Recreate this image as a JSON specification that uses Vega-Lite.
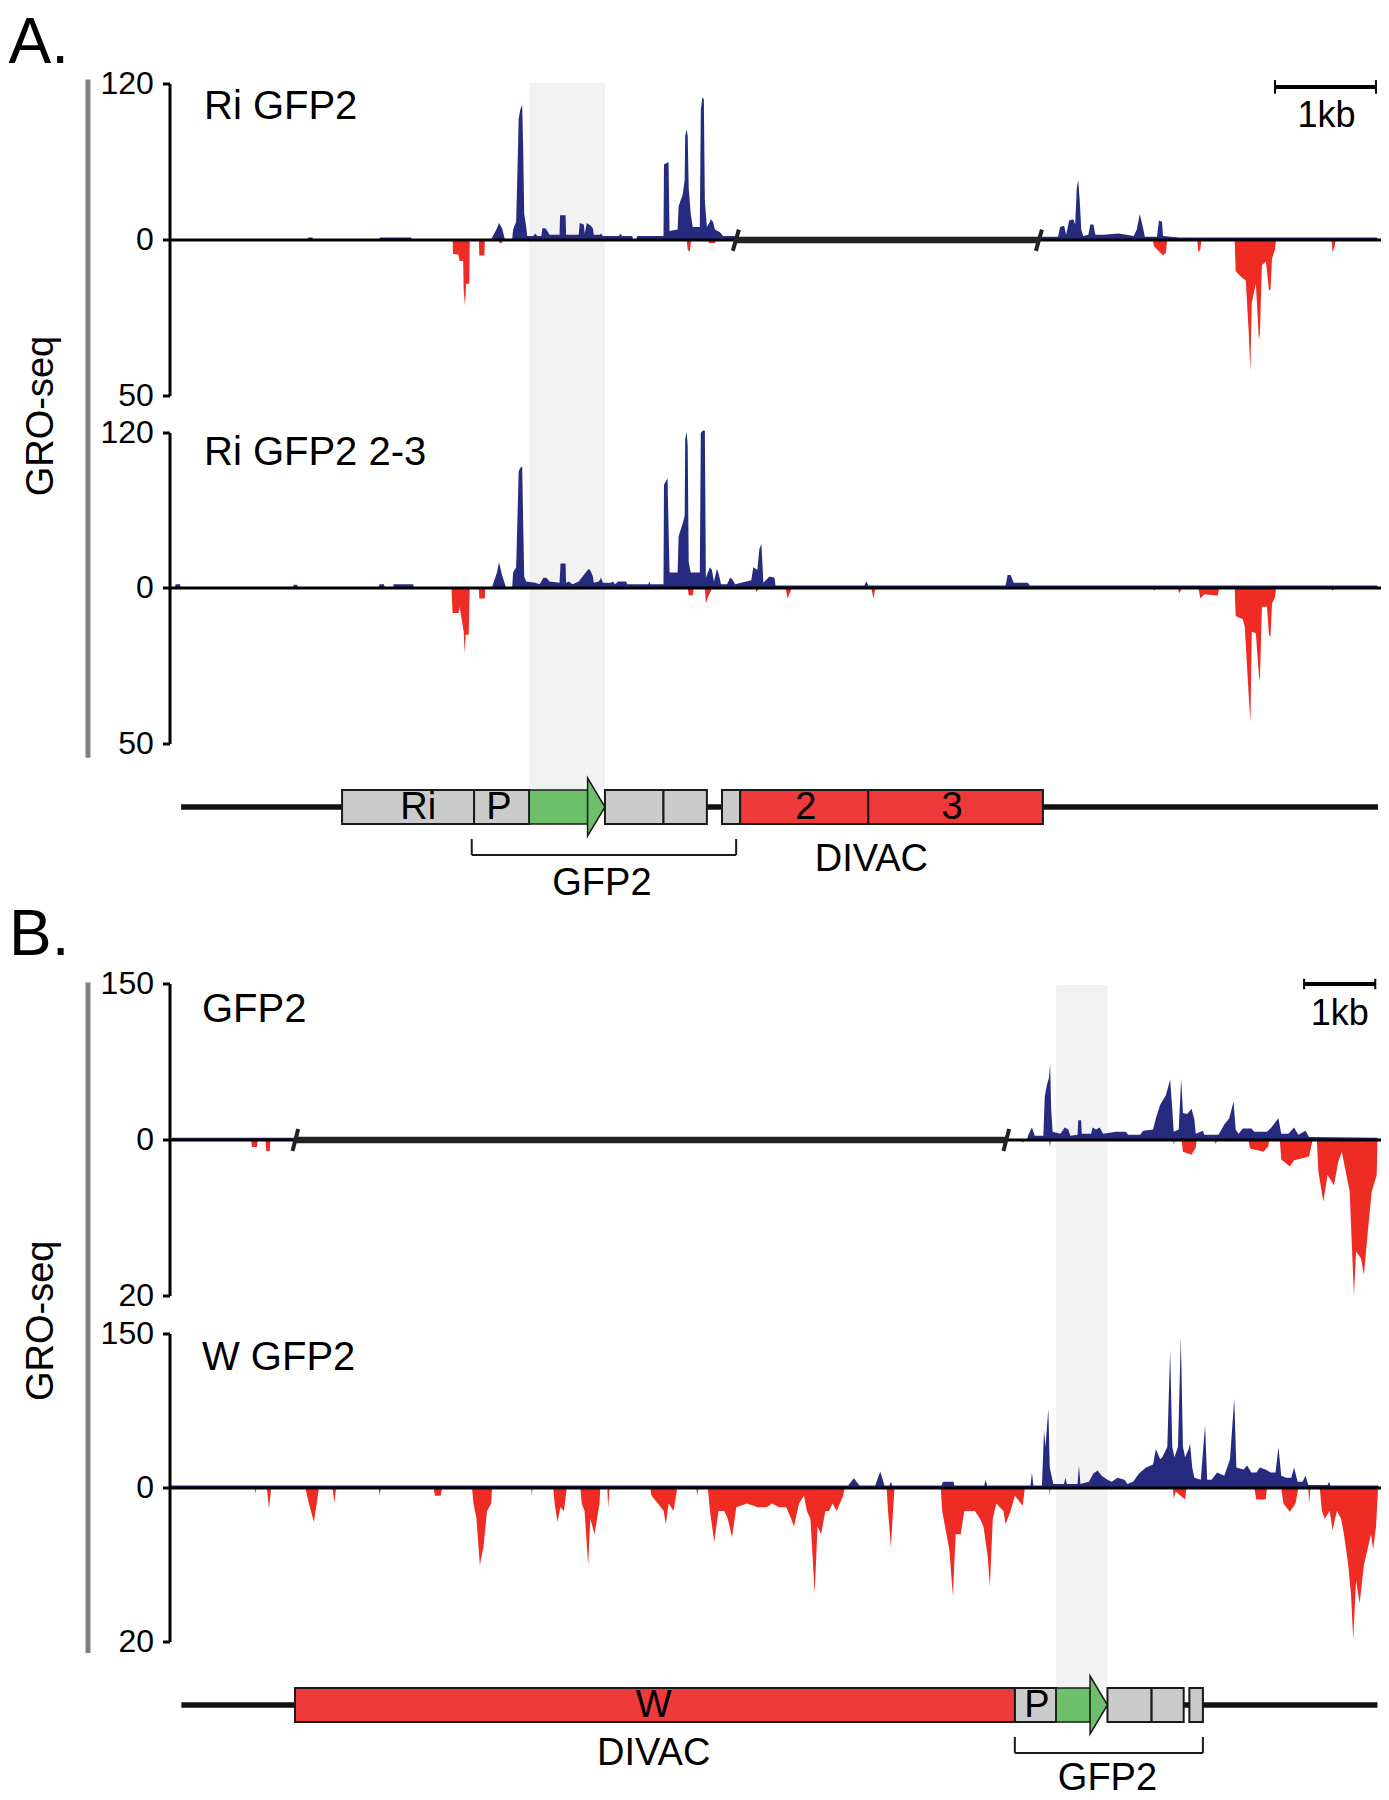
{
"$schema":"https://vega.github.io/schema/vega-lite/v6.json",
"width":1219,"height":1800,"padding":{"left":170,"top":0,"right":0,"bottom":0},"autosize":{"type":"none"},"background":"white",
"config":{"view":{"stroke":null},"font":"Liberation Sans","text":{"font":"Liberation Sans","color":"black"}},
"datasets":{
"ticks":[{"g":"A","v":120,"lab":"120"},{"g":"A","v":0,"lab":"0"},{"g":"A","v":-50,"lab":"50"},{"g":"B","v":150,"lab":"150"},{"g":"B","v":0,"lab":"0"},{"g":"B","v":-20,"lab":"20"}],
"A1p":[{"x":0,"v":0},{"x":1.36,"v":0},{"x":1.37,"v":2},{"x":1.41,"v":2},{"x":1.42,"v":0},{"x":2.07,"v":0},{"x":2.08,"v":2},{"x":2.39,"v":2},{"x":2.4,"v":0},{"x":3.18,"v":0},{"x":3.2,"v":3},{"x":3.24,"v":9},{"x":3.26,"v":13},{"x":3.29,"v":9},{"x":3.31,"v":3},{"x":3.32,"v":0},{"x":3.39,"v":0},{"x":3.4,"v":8},{"x":3.43,"v":14},{"x":3.445,"v":60},{"x":3.455,"v":93},{"x":3.47,"v":100},{"x":3.49,"v":104},{"x":3.5,"v":70},{"x":3.51,"v":20},{"x":3.53,"v":10},{"x":3.54,"v":3},{"x":3.6,"v":3},{"x":3.62,"v":5},{"x":3.64,"v":3},{"x":3.68,"v":3},{"x":3.69,"v":9},{"x":3.72,"v":9},{"x":3.74,"v":7},{"x":3.76,"v":4},{"x":3.86,"v":4},{"x":3.865,"v":19},{"x":3.92,"v":19},{"x":3.925,"v":4},{"x":4.05,"v":4},{"x":4.06,"v":13},{"x":4.1,"v":12},{"x":4.11,"v":5},{"x":4.13,"v":13},{"x":4.17,"v":11},{"x":4.19,"v":9},{"x":4.2,"v":4},{"x":4.26,"v":4},{"x":4.27,"v":5},{"x":4.29,"v":3},{"x":4.45,"v":3},{"x":4.46,"v":5},{"x":4.48,"v":3},{"x":4.58,"v":3},{"x":4.59,"v":0},{"x":4.62,"v":0},{"x":4.63,"v":3},{"x":4.89,"v":3},{"x":4.895,"v":58},{"x":4.94,"v":60},{"x":4.95,"v":7},{"x":5.03,"v":8},{"x":5.04,"v":26},{"x":5.08,"v":35},{"x":5.1,"v":46},{"x":5.105,"v":80},{"x":5.12,"v":85},{"x":5.13,"v":80},{"x":5.14,"v":40},{"x":5.16,"v":20},{"x":5.18,"v":10},{"x":5.25,"v":10},{"x":5.26,"v":100},{"x":5.275,"v":110},{"x":5.29,"v":108},{"x":5.3,"v":30},{"x":5.32,"v":10},{"x":5.35,"v":14},{"x":5.36,"v":16},{"x":5.38,"v":14},{"x":5.4,"v":8},{"x":5.45,"v":6},{"x":5.48,"v":3},{"x":5.6,"v":3},{"x":5.61,"v":0},{"x":8.62,"v":0},{"x":8.63,"v":2.5},{"x":8.8,"v":2.5},{"x":8.82,"v":10},{"x":8.86,"v":11},{"x":8.88,"v":4},{"x":8.91,"v":15},{"x":8.95,"v":16},{"x":8.97,"v":12},{"x":8.985,"v":40},{"x":9.0,"v":46},{"x":9.015,"v":30},{"x":9.03,"v":8},{"x":9.05,"v":3},{"x":9.1,"v":4},{"x":9.12,"v":12},{"x":9.15,"v":12},{"x":9.17,"v":4},{"x":9.25,"v":4},{"x":9.4,"v":5},{"x":9.55,"v":3},{"x":9.58,"v":8},{"x":9.61,"v":20},{"x":9.64,"v":10},{"x":9.66,"v":2.5},{"x":9.78,"v":2.5},{"x":9.8,"v":15},{"x":9.83,"v":14},{"x":9.84,"v":3},{"x":10.0,"v":2},{"x":11.96,"v":2},{"x":11.97,"v":0}],
"A1m":[{"x":2.8,"v":0},{"x":2.805,"v":-4.6},{"x":2.855,"v":-4.6},{"x":2.87,"v":-6.7},{"x":2.905,"v":-6.7},{"x":2.91,"v":-16},{"x":2.923,"v":-21},{"x":2.935,"v":-14},{"x":2.966,"v":-14},{"x":2.97,"v":0},{"x":3.06,"v":0},{"x":3.065,"v":-5},{"x":3.115,"v":-5},{"x":3.12,"v":0},{"x":3.26,"v":0},{"x":3.265,"v":-1},{"x":3.29,"v":-1},{"x":3.295,"v":0},{"x":5.12,"v":0},{"x":5.13,"v":-3},{"x":5.15,"v":-4},{"x":5.16,"v":-1},{"x":5.17,"v":0},{"x":5.33,"v":0},{"x":5.34,"v":-1},{"x":5.4,"v":-1},{"x":5.41,"v":0},{"x":9.74,"v":0},{"x":9.75,"v":-2},{"x":9.84,"v":-5},{"x":9.87,"v":-4},{"x":9.88,"v":0},{"x":10.18,"v":0},{"x":10.19,"v":-4},{"x":10.21,"v":-3},{"x":10.22,"v":0},{"x":10.55,"v":0},{"x":10.56,"v":-10},{"x":10.62,"v":-12},{"x":10.66,"v":-13},{"x":10.69,"v":-30},{"x":10.705,"v":-42},{"x":10.72,"v":-20},{"x":10.76,"v":-14},{"x":10.79,"v":-32},{"x":10.8,"v":-30},{"x":10.82,"v":-8},{"x":10.86,"v":-7},{"x":10.89,"v":-16},{"x":10.905,"v":-16},{"x":10.92,"v":-6},{"x":10.95,"v":-3},{"x":10.96,"v":0},{"x":11.51,"v":0},{"x":11.52,"v":-4},{"x":11.54,"v":-2},{"x":11.55,"v":0}],
"A2p":[{"x":0,"v":0},{"x":0.05,"v":0},{"x":0.055,"v":3},{"x":0.1,"v":3},{"x":0.105,"v":0},{"x":1.22,"v":0},{"x":1.225,"v":2.5},{"x":1.26,"v":2.5},{"x":1.265,"v":0},{"x":2.07,"v":0},{"x":2.075,"v":3},{"x":2.12,"v":3},{"x":2.13,"v":0},{"x":2.21,"v":0},{"x":2.215,"v":3},{"x":2.41,"v":3},{"x":2.415,"v":0},{"x":3.19,"v":0},{"x":3.2,"v":3},{"x":3.24,"v":12},{"x":3.26,"v":20},{"x":3.29,"v":10},{"x":3.32,"v":3},{"x":3.33,"v":0},{"x":3.39,"v":0},{"x":3.4,"v":12},{"x":3.43,"v":16},{"x":3.445,"v":60},{"x":3.455,"v":90},{"x":3.47,"v":93},{"x":3.49,"v":94},{"x":3.5,"v":50},{"x":3.51,"v":9},{"x":3.53,"v":5},{"x":3.62,"v":4},{"x":3.66,"v":3},{"x":3.68,"v":5},{"x":3.7,"v":8},{"x":3.73,"v":8},{"x":3.76,"v":5},{"x":3.86,"v":4},{"x":3.87,"v":19},{"x":3.92,"v":19},{"x":3.925,"v":4},{"x":3.95,"v":5},{"x":3.99,"v":3},{"x":4.05,"v":5},{"x":4.1,"v":10},{"x":4.15,"v":15},{"x":4.17,"v":13},{"x":4.19,"v":9},{"x":4.2,"v":4},{"x":4.25,"v":5},{"x":4.27,"v":8},{"x":4.29,"v":4},{"x":4.37,"v":4},{"x":4.39,"v":5},{"x":4.41,"v":3},{"x":4.44,"v":5},{"x":4.52,"v":5},{"x":4.53,"v":3},{"x":4.74,"v":3},{"x":4.75,"v":5},{"x":4.76,"v":3},{"x":4.89,"v":3},{"x":4.895,"v":80},{"x":4.93,"v":85},{"x":4.95,"v":12},{"x":5.03,"v":12},{"x":5.04,"v":40},{"x":5.08,"v":50},{"x":5.1,"v":56},{"x":5.105,"v":115},{"x":5.12,"v":121},{"x":5.13,"v":110},{"x":5.14,"v":20},{"x":5.16,"v":12},{"x":5.25,"v":12},{"x":5.26,"v":120},{"x":5.28,"v":122},{"x":5.3,"v":122},{"x":5.31,"v":8},{"x":5.35,"v":16},{"x":5.37,"v":14},{"x":5.39,"v":5},{"x":5.42,"v":15},{"x":5.44,"v":10},{"x":5.46,"v":3},{"x":5.52,"v":3},{"x":5.55,"v":8},{"x":5.57,"v":7},{"x":5.6,"v":3},{"x":5.71,"v":5},{"x":5.76,"v":6},{"x":5.78,"v":16},{"x":5.82,"v":14},{"x":5.84,"v":30},{"x":5.86,"v":34},{"x":5.87,"v":20},{"x":5.88,"v":4},{"x":5.94,"v":9},{"x":5.99,"v":8},{"x":6.0,"v":2},{"x":6.88,"v":2},{"x":6.9,"v":5},{"x":6.92,"v":2},{"x":8.28,"v":2},{"x":8.3,"v":10},{"x":8.33,"v":10},{"x":8.36,"v":4},{"x":8.5,"v":4},{"x":8.52,"v":2},{"x":11.96,"v":2},{"x":11.97,"v":0}],
"A2m":[{"x":2.79,"v":0},{"x":2.8,"v":-8},{"x":2.86,"v":-8},{"x":2.87,"v":-6},{"x":2.89,"v":-10},{"x":2.91,"v":-14},{"x":2.92,"v":-21},{"x":2.93,"v":-15},{"x":2.96,"v":-15},{"x":2.97,"v":0},{"x":3.06,"v":0},{"x":3.065,"v":-3.4},{"x":3.12,"v":-3.4},{"x":3.125,"v":0},{"x":5.13,"v":0},{"x":5.14,"v":-2.3},{"x":5.18,"v":-2.3},{"x":5.19,"v":0},{"x":5.3,"v":0},{"x":5.31,"v":-5},{"x":5.33,"v":-3},{"x":5.36,"v":-1},{"x":5.37,"v":0},{"x":5.8,"v":0},{"x":5.81,"v":-1.3},{"x":5.84,"v":0},{"x":6.1,"v":0},{"x":6.12,"v":-3.4},{"x":6.15,"v":-1},{"x":6.16,"v":0},{"x":6.95,"v":0},{"x":6.97,"v":-3.4},{"x":6.99,"v":0},{"x":9.74,"v":0},{"x":9.75,"v":-1},{"x":9.77,"v":0},{"x":9.99,"v":0},{"x":10.0,"v":-1.8},{"x":10.03,"v":0},{"x":10.19,"v":0},{"x":10.21,"v":-3.4},{"x":10.25,"v":-2},{"x":10.38,"v":-2.5},{"x":10.4,"v":0},{"x":10.55,"v":0},{"x":10.56,"v":-9},{"x":10.63,"v":-10},{"x":10.65,"v":-12.4},{"x":10.69,"v":-35},{"x":10.706,"v":-43},{"x":10.72,"v":-14},{"x":10.76,"v":-14.5},{"x":10.79,"v":-28},{"x":10.8,"v":-30},{"x":10.82,"v":-6},{"x":10.87,"v":-6},{"x":10.89,"v":-15},{"x":10.905,"v":-15.6},{"x":10.92,"v":-5},{"x":10.95,"v":-3},{"x":10.96,"v":0},{"x":11.51,"v":0},{"x":11.52,"v":-1},{"x":11.54,"v":0}],
"B3p":[{"x":0.02,"v":0},{"x":0.03,"v":2.2},{"x":1.74,"v":2.2},{"x":1.75,"v":0},{"x":12.03,"v":0},{"x":12.05,"v":5},{"x":12.1,"v":12},{"x":12.14,"v":4},{"x":12.26,"v":4},{"x":12.28,"v":42},{"x":12.31,"v":53},{"x":12.34,"v":60},{"x":12.355,"v":73},{"x":12.37,"v":30},{"x":12.39,"v":8},{"x":12.5,"v":6},{"x":12.56,"v":12},{"x":12.61,"v":10},{"x":12.64,"v":4},{"x":12.74,"v":5},{"x":12.75,"v":19},{"x":12.79,"v":19},{"x":12.8,"v":6},{"x":12.93,"v":6},{"x":12.95,"v":12},{"x":13.0,"v":10},{"x":13.05,"v":12},{"x":13.1,"v":6},{"x":13.28,"v":8},{"x":13.42,"v":8},{"x":13.45,"v":5},{"x":13.62,"v":5},{"x":13.66,"v":9},{"x":13.8,"v":10},{"x":13.84,"v":21},{"x":13.9,"v":34},{"x":13.98,"v":43},{"x":14.04,"v":58},{"x":14.07,"v":30},{"x":14.09,"v":8},{"x":14.16,"v":10},{"x":14.195,"v":59},{"x":14.22,"v":26},{"x":14.28,"v":25},{"x":14.34,"v":30},{"x":14.38,"v":20},{"x":14.4,"v":6},{"x":14.5,"v":9},{"x":14.52,"v":5},{"x":14.72,"v":5},{"x":14.8,"v":15},{"x":14.87,"v":21},{"x":14.93,"v":37},{"x":14.96,"v":10},{"x":15.0,"v":6},{"x":15.06,"v":11},{"x":15.18,"v":11},{"x":15.22,"v":8},{"x":15.4,"v":8},{"x":15.46,"v":12},{"x":15.56,"v":21},{"x":15.6,"v":6},{"x":15.7,"v":6},{"x":15.78,"v":12},{"x":15.84,"v":5},{"x":15.94,"v":9},{"x":15.99,"v":3},{"x":16.95,"v":2.2},{"x":16.96,"v":0}],
"B3m":[{"x":1.14,"v":0},{"x":1.15,"v":-0.9},{"x":1.22,"v":-0.9},{"x":1.23,"v":0},{"x":1.34,"v":0},{"x":1.35,"v":-1.4},{"x":1.4,"v":-1.4},{"x":1.41,"v":0},{"x":11.96,"v":0},{"x":11.97,"v":-0.4},{"x":12.0,"v":0},{"x":12.34,"v":0},{"x":12.35,"v":-0.9},{"x":12.37,"v":0},{"x":14.08,"v":0},{"x":14.09,"v":-0.6},{"x":14.11,"v":0},{"x":14.2,"v":0},{"x":14.22,"v":-1.5},{"x":14.34,"v":-1.9},{"x":14.4,"v":-1},{"x":14.41,"v":0},{"x":14.66,"v":0},{"x":14.68,"v":-0.5},{"x":14.7,"v":0},{"x":15.14,"v":0},{"x":15.16,"v":-1.1},{"x":15.35,"v":-1.5},{"x":15.42,"v":-0.8},{"x":15.43,"v":0},{"x":15.58,"v":0},{"x":15.6,"v":-2.5},{"x":15.72,"v":-3.4},{"x":15.78,"v":-2.6},{"x":15.87,"v":-2.4},{"x":15.99,"v":-2.1},{"x":16.04,"v":0},{"x":16.1,"v":0},{"x":16.12,"v":-4},{"x":16.19,"v":-7.9},{"x":16.25,"v":-4.5},{"x":16.34,"v":-5.8},{"x":16.4,"v":-2.8},{"x":16.45,"v":-1.5},{"x":16.56,"v":-6.6},{"x":16.62,"v":-20},{"x":16.65,"v":-14.3},{"x":16.72,"v":-15.2},{"x":16.76,"v":-17.3},{"x":16.81,"v":-12.2},{"x":16.87,"v":-6.6},{"x":16.94,"v":-4.5},{"x":16.95,"v":0}],
"B4p":[{"x":0,"v":0},{"x":0.01,"v":2.5},{"x":9.52,"v":2.5},{"x":9.6,"v":9.6},{"x":9.68,"v":2.5},{"x":9.9,"v":2.5},{"x":9.97,"v":16},{"x":10.03,"v":2.5},{"x":10.1,"v":2.5},{"x":10.12,"v":6},{"x":10.14,"v":2.5},{"x":10.83,"v":2.5},{"x":10.85,"v":6},{"x":11.0,"v":6},{"x":11.01,"v":2.5},{"x":11.43,"v":2.5},{"x":11.45,"v":8},{"x":11.47,"v":2.5},{"x":12.08,"v":2.5},{"x":12.1,"v":15},{"x":12.12,"v":2.5},{"x":12.24,"v":2.5},{"x":12.27,"v":56},{"x":12.29,"v":40},{"x":12.33,"v":77},{"x":12.35,"v":20},{"x":12.4,"v":4},{"x":12.55,"v":4},{"x":12.57,"v":10},{"x":12.59,"v":4},{"x":12.74,"v":4},{"x":12.76,"v":22},{"x":12.78,"v":4},{"x":12.9,"v":6},{"x":12.96,"v":14},{"x":13.02,"v":17},{"x":13.08,"v":12},{"x":13.16,"v":8},{"x":13.22,"v":6},{"x":13.3,"v":10},{"x":13.4,"v":8},{"x":13.44,"v":4},{"x":13.52,"v":6},{"x":13.6,"v":14},{"x":13.7,"v":20},{"x":13.8,"v":23},{"x":13.84,"v":38},{"x":13.9,"v":28},{"x":13.93,"v":30},{"x":14.0,"v":40},{"x":14.04,"v":134},{"x":14.07,"v":40},{"x":14.1,"v":30},{"x":14.15,"v":40},{"x":14.19,"v":146},{"x":14.22,"v":40},{"x":14.25,"v":30},{"x":14.3,"v":38},{"x":14.32,"v":43},{"x":14.35,"v":20},{"x":14.38,"v":10},{"x":14.47,"v":8},{"x":14.53,"v":61},{"x":14.56,"v":8},{"x":14.62,"v":8},{"x":14.7,"v":15},{"x":14.8,"v":12},{"x":14.88,"v":28},{"x":14.94,"v":87},{"x":14.97,"v":20},{"x":15.07,"v":18},{"x":15.12,"v":22},{"x":15.18,"v":15},{"x":15.25,"v":15},{"x":15.3,"v":20},{"x":15.38,"v":18},{"x":15.45,"v":15},{"x":15.52,"v":15},{"x":15.56,"v":40},{"x":15.6,"v":12},{"x":15.67,"v":10},{"x":15.74,"v":10},{"x":15.78,"v":20},{"x":15.83,"v":6},{"x":15.9,"v":6},{"x":15.94,"v":12},{"x":15.98,"v":3},{"x":16.25,"v":3},{"x":16.27,"v":6},{"x":16.29,"v":2.5},{"x":16.96,"v":2.5},{"x":16.97,"v":0}],
"B4m":[{"x":1.19,"v":0},{"x":1.2,"v":-0.8},{"x":1.21,"v":0},{"x":1.36,"v":0},{"x":1.39,"v":-2.7},{"x":1.42,"v":0},{"x":1.9,"v":0},{"x":1.95,"v":-2},{"x":2.02,"v":-4.4},{"x":2.06,"v":-2},{"x":2.09,"v":0},{"x":2.28,"v":0},{"x":2.31,"v":-1.9},{"x":2.33,"v":0},{"x":2.93,"v":0},{"x":2.94,"v":-1},{"x":2.96,"v":0},{"x":3.7,"v":0},{"x":3.72,"v":-1},{"x":3.8,"v":-1},{"x":3.82,"v":0},{"x":4.24,"v":0},{"x":4.26,"v":-2},{"x":4.3,"v":-3.8},{"x":4.35,"v":-10},{"x":4.4,"v":-7.7},{"x":4.45,"v":-3},{"x":4.51,"v":-2},{"x":4.52,"v":0},{"x":5.07,"v":0},{"x":5.08,"v":-1},{"x":5.09,"v":0},{"x":5.38,"v":0},{"x":5.4,"v":-2},{"x":5.44,"v":-4.4},{"x":5.48,"v":-2.5},{"x":5.53,"v":-3},{"x":5.57,"v":0},{"x":5.76,"v":0},{"x":5.78,"v":-2},{"x":5.82,"v":-3},{"x":5.87,"v":-10},{"x":5.9,"v":-4},{"x":5.96,"v":-6},{"x":6.03,"v":-2},{"x":6.04,"v":0},{"x":6.14,"v":0},{"x":6.15,"v":-2.7},{"x":6.17,"v":0},{"x":6.74,"v":0},{"x":6.76,"v":-1},{"x":6.85,"v":-2},{"x":6.93,"v":-3},{"x":6.96,"v":-4.7},{"x":7.0,"v":-2},{"x":7.07,"v":-3},{"x":7.12,"v":0},{"x":7.39,"v":0},{"x":7.4,"v":-1},{"x":7.42,"v":0},{"x":7.55,"v":0},{"x":7.58,"v":-3},{"x":7.64,"v":-7},{"x":7.7,"v":-3},{"x":7.78,"v":-3},{"x":7.83,"v":-4},{"x":7.89,"v":-6.4},{"x":7.95,"v":-2.5},{"x":8.1,"v":-2},{"x":8.25,"v":-2.5},{"x":8.38,"v":-2.5},{"x":8.45,"v":-2},{"x":8.55,"v":-2.5},{"x":8.65,"v":-2.5},{"x":8.72,"v":-4},{"x":8.76,"v":-5},{"x":8.83,"v":-2},{"x":8.9,"v":-1},{"x":8.94,"v":-3},{"x":8.99,"v":-4},{"x":9.05,"v":-13.7},{"x":9.09,"v":-5},{"x":9.14,"v":-6},{"x":9.2,"v":-3},{"x":9.25,"v":-3},{"x":9.3,"v":-2},{"x":9.36,"v":-3},{"x":9.45,"v":-1},{"x":9.47,"v":0},{"x":10.06,"v":0},{"x":10.08,"v":-3},{"x":10.12,"v":-7.7},{"x":10.15,"v":-3},{"x":10.17,"v":0},{"x":10.82,"v":0},{"x":10.84,"v":-3},{"x":10.88,"v":-5},{"x":10.94,"v":-8},{"x":10.99,"v":-14},{"x":11.03,"v":-6},{"x":11.1,"v":-6},{"x":11.15,"v":-3},{"x":11.22,"v":-3},{"x":11.3,"v":-3},{"x":11.37,"v":-4},{"x":11.42,"v":-5},{"x":11.48,"v":-9},{"x":11.51,"v":-12.8},{"x":11.55,"v":-4},{"x":11.6,"v":-2},{"x":11.7,"v":-3},{"x":11.73,"v":-4.7},{"x":11.8,"v":-3},{"x":11.86,"v":-1},{"x":11.97,"v":-2.3},{"x":12.0,"v":0},{"x":12.34,"v":0},{"x":12.35,"v":-1},{"x":12.36,"v":0},{"x":14.08,"v":0},{"x":14.09,"v":-1.4},{"x":14.12,"v":-0.5},{"x":14.25,"v":-1.5},{"x":14.27,"v":0},{"x":15.22,"v":0},{"x":15.25,"v":-1.5},{"x":15.38,"v":-1.5},{"x":15.4,"v":0},{"x":15.6,"v":0},{"x":15.63,"v":-2},{"x":15.72,"v":-3.1},{"x":15.8,"v":-2},{"x":15.84,"v":0},{"x":15.98,"v":0},{"x":15.99,"v":-2},{"x":16.01,"v":0},{"x":16.14,"v":0},{"x":16.17,"v":-3},{"x":16.21,"v":-4},{"x":16.28,"v":-3},{"x":16.32,"v":-5.5},{"x":16.38,"v":-3},{"x":16.44,"v":-4},{"x":16.48,"v":-6},{"x":16.54,"v":-10},{"x":16.58,"v":-14},{"x":16.61,"v":-19.7},{"x":16.65,"v":-12},{"x":16.7,"v":-15},{"x":16.76,"v":-10},{"x":16.81,"v":-8},{"x":16.86,"v":-6},{"x":16.89,"v":-8},{"x":16.93,"v":-5},{"x":16.96,"v":0}],
"genes":[{"sec":"A","kind":"gray","start":1.705,"end":3.013},{"sec":"A","kind":"gray","start":3.013,"end":3.56},{"sec":"A","kind":"gray","start":4.31,"end":4.89},{"sec":"A","kind":"gray","start":4.89,"end":5.32},{"sec":"A","kind":"gray","start":5.47,"end":5.65},{"sec":"A","kind":"red","start":5.65,"end":6.92},{"sec":"A","kind":"red","start":6.92,"end":8.65},{"sec":"B","kind":"red","start":1.755,"end":11.86},{"sec":"B","kind":"gray","start":11.86,"end":12.44},{"sec":"B","kind":"gray","start":13.16,"end":13.78},{"sec":"B","kind":"gray","start":13.78,"end":14.23},{"sec":"B","kind":"gray","start":14.31,"end":14.5}],
"boxlabels":[{"sec":"A","label":"Ri","pos":2.46},{"sec":"A","label":"P","pos":3.26},{"sec":"A","label":"2","pos":6.3},{"sec":"A","label":"3","pos":7.75},{"sec":"B","label":"W","pos":6.79},{"sec":"B","label":"P","pos":12.17}]
},
"resolve":{"scale":{"x":"independent","y":"independent"}},
"layer":[
{"resolve":{"scale":{"y":"independent"}},
 "layer":[
  {"data":{"values":[{}]},"layer":[
    {"mark":{"type":"rect","color":"#f2f2f2"},"encoding":{"x":{"datum":3.56,"type":"quantitative","scale":{"domain":[0,12],"range":[0,1211],"nice":false,"zero":false},"axis":null},"x2":{"datum":4.31},"y":{"datum":1,"type":"quantitative","scale":{"domain":[-1,1],"range":[824,790],"nice":false,"zero":false},"axis":null},"y2":{"datum":42.6}}},
    {"mark":{"type":"rule","color":"#808080","strokeWidth":5},"encoding":{"x":{"datum":-0.813,"type":"quantitative","scale":{"domain":[0,12],"range":[0,1211],"nice":false,"zero":false},"axis":null},"y":{"datum":2.9,"type":"quantitative","scale":{"domain":[-1,1],"range":[824,790],"nice":false,"zero":false},"axis":null},"y2":{"datum":42.8}}},
    {"mark":{"type":"text","fontSize":64,"align":"left","baseline":"alphabetic","text":"A."},"encoding":{"x":{"datum":-1.6,"type":"quantitative","scale":{"domain":[0,12],"range":[0,1211],"nice":false,"zero":false},"axis":null},"y":{"datum":43.76,"type":"quantitative","scale":{"domain":[-1,1],"range":[824,790],"nice":false,"zero":false},"axis":null}}},
    {"mark":{"type":"text","fontSize":38,"angle":270,"align":"center","baseline":"middle","text":"GRO-seq"},"encoding":{"x":{"datum":-1.27,"type":"quantitative","scale":{"domain":[0,12],"range":[0,1211],"nice":false,"zero":false},"axis":null},"y":{"datum":23,"type":"quantitative","scale":{"domain":[-1,1],"range":[824,790],"nice":false,"zero":false},"axis":null}}}
  ]},
  {"layer":[
    {"data":{"name":"A1p"},"mark":{"type":"area","color":"#262b7f","interpolate":"linear"},"encoding":{"x":{"field":"x","type":"quantitative","scale":{"domain":[0,12],"range":[0,1211],"nice":false,"zero":false},"axis":null},"y":{"field":"v","type":"quantitative","scale":{"domain":[-50,0,120],"range":[396,240,84],"nice":false,"zero":false},"axis":null},"y2":{"datum":0}}},
    {"data":{"name":"A1m"},"mark":{"type":"area","color":"#ee2c24","interpolate":"linear"},"encoding":{"x":{"field":"x","type":"quantitative","scale":{"domain":[0,12],"range":[0,1211],"nice":false,"zero":false},"axis":null},"y":{"field":"v","type":"quantitative","scale":{"domain":[-50,0,120],"range":[396,240,84],"nice":false,"zero":false},"axis":null},"y2":{"datum":0}}},
    {"data":{"name":"ticks"},"transform":[{"filter":"datum.g=='A'"}],"mark":{"type":"rule","color":"black","strokeWidth":3},"encoding":{"x":{"datum":0,"type":"quantitative","scale":{"domain":[0,12],"range":[0,1211],"nice":false,"zero":false},"axis":null},"x2":{"datum":-0.07},"y":{"field":"v","type":"quantitative","scale":{"domain":[-50,0,120],"range":[396,240,84],"nice":false,"zero":false},"axis":null}}},
    {"data":{"name":"ticks"},"transform":[{"filter":"datum.g=='A'"}],"mark":{"type":"text","fontSize":32,"align":"right","baseline":"middle"},"encoding":{"x":{"datum":-0.16,"type":"quantitative","axis":null},"y":{"field":"v","type":"quantitative","axis":null},"text":{"field":"lab"}}},
    {"data":{"values":[{}]},"layer":[
      {"mark":{"type":"rule","color":"black","strokeWidth":3},"encoding":{"x":{"datum":0,"type":"quantitative","axis":null},"y":{"datum":-50,"type":"quantitative","axis":null},"y2":{"datum":120}}},
      {"mark":{"type":"rule","color":"black","strokeWidth":3},"encoding":{"x":{"datum":0,"type":"quantitative","axis":null},"x2":{"datum":12},"y":{"datum":0,"type":"quantitative","axis":null}}},
      {"mark":{"type":"rule","color":"#222222","strokeWidth":6.5},"encoding":{"x":{"datum":5.607,"type":"quantitative","axis":null},"x2":{"datum":8.61},"y":{"datum":0,"type":"quantitative","axis":null}}},
      {"mark":{"type":"rule","color":"#222222","strokeWidth":4},"encoding":{"x":{"datum":5.577,"type":"quantitative","axis":null},"x2":{"datum":5.637},"y":{"datum":-3.5,"type":"quantitative","axis":null},"y2":{"datum":8}}},
      {"mark":{"type":"rule","color":"#222222","strokeWidth":4},"encoding":{"x":{"datum":8.58,"type":"quantitative","axis":null},"x2":{"datum":8.64},"y":{"datum":-3.5,"type":"quantitative","axis":null},"y2":{"datum":8}}},
      {"mark":{"type":"text","fontSize":40,"align":"left","baseline":"middle","text":"Ri GFP2"},"encoding":{"x":{"datum":0.337,"type":"quantitative","axis":null},"y":{"datum":102.3,"type":"quantitative","axis":null}}},
      {"mark":{"type":"rule","color":"black","strokeWidth":4},"encoding":{"x":{"datum":10.95,"type":"quantitative","axis":null},"x2":{"datum":11.95},"y":{"datum":117.7,"type":"quantitative","axis":null}}},
      {"mark":{"type":"rule","color":"black","strokeWidth":2},"encoding":{"x":{"datum":10.95,"type":"quantitative","axis":null},"y":{"datum":112.5,"type":"quantitative","axis":null},"y2":{"datum":123}}},
      {"mark":{"type":"rule","color":"black","strokeWidth":2},"encoding":{"x":{"datum":11.95,"type":"quantitative","axis":null},"y":{"datum":112.5,"type":"quantitative","axis":null},"y2":{"datum":123}}},
      {"mark":{"type":"text","fontSize":36,"align":"center","baseline":"middle","text":"1kb"},"encoding":{"x":{"datum":11.46,"type":"quantitative","axis":null},"y":{"datum":95.4,"type":"quantitative","axis":null}}}
    ]}
  ]},
  {"layer":[
    {"data":{"name":"A2p"},"mark":{"type":"area","color":"#262b7f","interpolate":"linear"},"encoding":{"x":{"field":"x","type":"quantitative","scale":{"domain":[0,12],"range":[0,1211],"nice":false,"zero":false},"axis":null},"y":{"field":"v","type":"quantitative","scale":{"domain":[-50,0,120],"range":[744,588,433],"nice":false,"zero":false},"axis":null},"y2":{"datum":0}}},
    {"data":{"name":"A2m"},"mark":{"type":"area","color":"#ee2c24","interpolate":"linear"},"encoding":{"x":{"field":"x","type":"quantitative","scale":{"domain":[0,12],"range":[0,1211],"nice":false,"zero":false},"axis":null},"y":{"field":"v","type":"quantitative","scale":{"domain":[-50,0,120],"range":[744,588,433],"nice":false,"zero":false},"axis":null},"y2":{"datum":0}}},
    {"data":{"name":"ticks"},"transform":[{"filter":"datum.g=='A'"}],"mark":{"type":"rule","color":"black","strokeWidth":3},"encoding":{"x":{"datum":0,"type":"quantitative","scale":{"domain":[0,12],"range":[0,1211],"nice":false,"zero":false},"axis":null},"x2":{"datum":-0.07},"y":{"field":"v","type":"quantitative","scale":{"domain":[-50,0,120],"range":[744,588,433],"nice":false,"zero":false},"axis":null}}},
    {"data":{"name":"ticks"},"transform":[{"filter":"datum.g=='A'"}],"mark":{"type":"text","fontSize":32,"align":"right","baseline":"middle"},"encoding":{"x":{"datum":-0.16,"type":"quantitative","axis":null},"y":{"field":"v","type":"quantitative","axis":null},"text":{"field":"lab"}}},
    {"data":{"values":[{}]},"layer":[
      {"mark":{"type":"rule","color":"black","strokeWidth":3},"encoding":{"x":{"datum":0,"type":"quantitative","axis":null},"y":{"datum":-50,"type":"quantitative","axis":null},"y2":{"datum":120}}},
      {"mark":{"type":"rule","color":"black","strokeWidth":3},"encoding":{"x":{"datum":0,"type":"quantitative","axis":null},"x2":{"datum":12},"y":{"datum":0,"type":"quantitative","axis":null}}},
      {"mark":{"type":"text","fontSize":40,"align":"left","baseline":"middle","text":"Ri GFP2 2-3"},"encoding":{"x":{"datum":0.337,"type":"quantitative","axis":null},"y":{"datum":104.5,"type":"quantitative","axis":null}}}
    ]}
  ]},
  {"layer":[
    {"data":{"values":[{}]},"mark":{"type":"rule","color":"#111111","strokeWidth":5.5},"encoding":{"x":{"datum":0.11,"type":"quantitative","scale":{"domain":[0,12],"range":[0,1211],"nice":false,"zero":false},"axis":null},"x2":{"datum":11.97},"y":{"datum":0,"type":"quantitative","scale":{"domain":[-1,1],"range":[824,790],"nice":false,"zero":false},"axis":null}}},
    {"data":{"name":"genes"},"transform":[{"filter":"datum.sec=='A' && datum.kind=='gray'"}],"mark":{"type":"rect","color":"#cbcbcb","stroke":"#1a1a1a","strokeWidth":2},"encoding":{"x":{"field":"start","type":"quantitative","axis":null},"x2":{"field":"end"},"y":{"datum":1,"type":"quantitative","axis":null},"y2":{"datum":-1}}},
    {"data":{"name":"genes"},"transform":[{"filter":"datum.sec=='A' && datum.kind=='red'"}],"mark":{"type":"rect","color":"#ee3a3a","stroke":"#1a1a1a","strokeWidth":2},"encoding":{"x":{"field":"start","type":"quantitative","axis":null},"x2":{"field":"end"},"y":{"datum":1,"type":"quantitative","axis":null},"y2":{"datum":-1}}},
    {"data":{"values":[{}]},"layer":[
      {"mark":{"type":"rect","color":"#6cc06a","stroke":"#1a1a1a","strokeWidth":1.5},"encoding":{"x":{"datum":3.56,"type":"quantitative","axis":null},"x2":{"datum":4.14},"y":{"datum":1,"type":"quantitative","axis":null},"y2":{"datum":-1}}},
      {"mark":{"type":"point","shape":"M-0.3,-1L0.3,0L-0.3,1Z","size":3364,"filled":true,"color":"#6cc06a","stroke":"#1a1a1a","strokeWidth":1.5,"opacity":1},"encoding":{"x":{"datum":4.224,"type":"quantitative","axis":null},"y":{"datum":0,"type":"quantitative","axis":null}}},
      {"mark":{"type":"rule","color":"#1a1a1a","strokeWidth":2},"encoding":{"x":{"datum":2.99,"type":"quantitative","axis":null},"x2":{"datum":5.61},"y":{"datum":-2.82,"type":"quantitative","axis":null}}},
      {"mark":{"type":"rule","color":"#1a1a1a","strokeWidth":2},"encoding":{"x":{"datum":2.99,"type":"quantitative","axis":null},"y":{"datum":-1.88,"type":"quantitative","axis":null},"y2":{"datum":-2.82}}},
      {"mark":{"type":"rule","color":"#1a1a1a","strokeWidth":2},"encoding":{"x":{"datum":5.61,"type":"quantitative","axis":null},"y":{"datum":-1.88,"type":"quantitative","axis":null},"y2":{"datum":-2.82}}},
      {"mark":{"type":"text","fontSize":38,"align":"center","baseline":"middle","text":"GFP2"},"encoding":{"x":{"datum":4.28,"type":"quantitative","axis":null},"y":{"datum":-4.5,"type":"quantitative","axis":null}}},
      {"mark":{"type":"text","fontSize":38,"align":"center","baseline":"middle","text":"DIVAC"},"encoding":{"x":{"datum":6.95,"type":"quantitative","axis":null},"y":{"datum":-3.1,"type":"quantitative","axis":null}}}
    ]},
    {"data":{"name":"boxlabels"},"transform":[{"filter":"datum.sec=='A'"}],"mark":{"type":"text","fontSize":38,"align":"center","baseline":"middle"},"encoding":{"x":{"field":"pos","type":"quantitative","axis":null},"y":{"datum":-0.05,"type":"quantitative","axis":null},"text":{"field":"label"}}}
  ]}
 ]},
{"resolve":{"scale":{"y":"independent"}},
 "layer":[
  {"data":{"values":[{}]},"layer":[
    {"mark":{"type":"rect","color":"#f2f2f2"},"encoding":{"x":{"datum":12.44,"type":"quantitative","scale":{"domain":[0,17],"range":[0,1211],"nice":false,"zero":false},"axis":null},"x2":{"datum":13.16},"y":{"datum":1,"type":"quantitative","scale":{"domain":[-1,1],"range":[1722,1688],"nice":false,"zero":false},"axis":null},"y2":{"datum":42.35}}},
    {"mark":{"type":"rule","color":"#808080","strokeWidth":5},"encoding":{"x":{"datum":-1.151,"type":"quantitative","scale":{"domain":[0,17],"range":[0,1211],"nice":false,"zero":false},"axis":null},"y":{"datum":3.06,"type":"quantitative","scale":{"domain":[-1,1],"range":[1722,1688],"nice":false,"zero":false},"axis":null},"y2":{"datum":42.5}}},
    {"mark":{"type":"text","fontSize":64,"align":"left","baseline":"alphabetic","text":"B."},"encoding":{"x":{"datum":-2.26,"type":"quantitative","scale":{"domain":[0,17],"range":[0,1211],"nice":false,"zero":false},"axis":null},"y":{"datum":44.1,"type":"quantitative","scale":{"domain":[-1,1],"range":[1722,1688],"nice":false,"zero":false},"axis":null}}},
    {"mark":{"type":"text","fontSize":38,"angle":270,"align":"center","baseline":"middle","text":"GRO-seq"},"encoding":{"x":{"datum":-1.797,"type":"quantitative","scale":{"domain":[0,17],"range":[0,1211],"nice":false,"zero":false},"axis":null},"y":{"datum":22.6,"type":"quantitative","scale":{"domain":[-1,1],"range":[1722,1688],"nice":false,"zero":false},"axis":null}}}
  ]},
  {"layer":[
    {"data":{"name":"B3p"},"mark":{"type":"area","color":"#262b7f","interpolate":"linear"},"encoding":{"x":{"field":"x","type":"quantitative","scale":{"domain":[0,17],"range":[0,1211],"nice":false,"zero":false},"axis":null},"y":{"field":"v","type":"quantitative","scale":{"domain":[-20,0,150],"range":[1296,1140,984],"nice":false,"zero":false},"axis":null},"y2":{"datum":0}}},
    {"data":{"name":"B3m"},"mark":{"type":"area","color":"#ee2c24","interpolate":"linear"},"encoding":{"x":{"field":"x","type":"quantitative","scale":{"domain":[0,17],"range":[0,1211],"nice":false,"zero":false},"axis":null},"y":{"field":"v","type":"quantitative","scale":{"domain":[-20,0,150],"range":[1296,1140,984],"nice":false,"zero":false},"axis":null},"y2":{"datum":0}}},
    {"data":{"name":"ticks"},"transform":[{"filter":"datum.g=='B'"}],"mark":{"type":"rule","color":"black","strokeWidth":3},"encoding":{"x":{"datum":0,"type":"quantitative","scale":{"domain":[0,17],"range":[0,1211],"nice":false,"zero":false},"axis":null},"x2":{"datum":-0.098},"y":{"field":"v","type":"quantitative","scale":{"domain":[-20,0,150],"range":[1296,1140,984],"nice":false,"zero":false},"axis":null}}},
    {"data":{"name":"ticks"},"transform":[{"filter":"datum.g=='B'"}],"mark":{"type":"text","fontSize":32,"align":"right","baseline":"middle"},"encoding":{"x":{"datum":-0.225,"type":"quantitative","axis":null},"y":{"field":"v","type":"quantitative","axis":null},"text":{"field":"lab"}}},
    {"data":{"values":[{}]},"layer":[
      {"mark":{"type":"rule","color":"black","strokeWidth":3},"encoding":{"x":{"datum":0,"type":"quantitative","axis":null},"y":{"datum":-20,"type":"quantitative","axis":null},"y2":{"datum":150}}},
      {"mark":{"type":"rule","color":"black","strokeWidth":3},"encoding":{"x":{"datum":0,"type":"quantitative","axis":null},"x2":{"datum":17},"y":{"datum":0,"type":"quantitative","axis":null}}},
      {"mark":{"type":"rule","color":"#222222","strokeWidth":6.5},"encoding":{"x":{"datum":1.77,"type":"quantitative","axis":null},"x2":{"datum":11.74},"y":{"datum":0,"type":"quantitative","axis":null}}},
      {"mark":{"type":"rule","color":"#222222","strokeWidth":4},"encoding":{"x":{"datum":1.72,"type":"quantitative","axis":null},"x2":{"datum":1.8},"y":{"datum":-1.4,"type":"quantitative","axis":null},"y2":{"datum":10.5}}},
      {"mark":{"type":"rule","color":"#222222","strokeWidth":4},"encoding":{"x":{"datum":11.70,"type":"quantitative","axis":null},"x2":{"datum":11.78},"y":{"datum":-1.4,"type":"quantitative","axis":null},"y2":{"datum":10.5}}},
      {"mark":{"type":"text","fontSize":40,"align":"left","baseline":"middle","text":"GFP2"},"encoding":{"x":{"datum":0.449,"type":"quantitative","axis":null},"y":{"datum":125,"type":"quantitative","axis":null}}},
      {"mark":{"type":"rule","color":"black","strokeWidth":4},"encoding":{"x":{"datum":15.92,"type":"quantitative","axis":null},"x2":{"datum":16.92},"y":{"datum":150,"type":"quantitative","axis":null}}},
      {"mark":{"type":"rule","color":"black","strokeWidth":2},"encoding":{"x":{"datum":15.92,"type":"quantitative","axis":null},"y":{"datum":145,"type":"quantitative","axis":null},"y2":{"datum":155}}},
      {"mark":{"type":"rule","color":"black","strokeWidth":2},"encoding":{"x":{"datum":16.92,"type":"quantitative","axis":null},"y":{"datum":145,"type":"quantitative","axis":null},"y2":{"datum":155}}},
      {"mark":{"type":"text","fontSize":36,"align":"center","baseline":"middle","text":"1kb"},"encoding":{"x":{"datum":16.42,"type":"quantitative","axis":null},"y":{"datum":121,"type":"quantitative","axis":null}}}
    ]}
  ]},
  {"layer":[
    {"data":{"name":"B4p"},"mark":{"type":"area","color":"#262b7f","interpolate":"linear"},"encoding":{"x":{"field":"x","type":"quantitative","scale":{"domain":[0,17],"range":[0,1211],"nice":false,"zero":false},"axis":null},"y":{"field":"v","type":"quantitative","scale":{"domain":[-20,0,150],"range":[1642,1488,1334],"nice":false,"zero":false},"axis":null},"y2":{"datum":0}}},
    {"data":{"name":"B4m"},"mark":{"type":"area","color":"#ee2c24","interpolate":"linear"},"encoding":{"x":{"field":"x","type":"quantitative","scale":{"domain":[0,17],"range":[0,1211],"nice":false,"zero":false},"axis":null},"y":{"field":"v","type":"quantitative","scale":{"domain":[-20,0,150],"range":[1642,1488,1334],"nice":false,"zero":false},"axis":null},"y2":{"datum":0}}},
    {"data":{"name":"ticks"},"transform":[{"filter":"datum.g=='B'"}],"mark":{"type":"rule","color":"black","strokeWidth":3},"encoding":{"x":{"datum":0,"type":"quantitative","scale":{"domain":[0,17],"range":[0,1211],"nice":false,"zero":false},"axis":null},"x2":{"datum":-0.098},"y":{"field":"v","type":"quantitative","scale":{"domain":[-20,0,150],"range":[1642,1488,1334],"nice":false,"zero":false},"axis":null}}},
    {"data":{"name":"ticks"},"transform":[{"filter":"datum.g=='B'"}],"mark":{"type":"text","fontSize":32,"align":"right","baseline":"middle"},"encoding":{"x":{"datum":-0.225,"type":"quantitative","axis":null},"y":{"field":"v","type":"quantitative","axis":null},"text":{"field":"lab"}}},
    {"data":{"values":[{}]},"layer":[
      {"mark":{"type":"rule","color":"black","strokeWidth":3},"encoding":{"x":{"datum":0,"type":"quantitative","axis":null},"y":{"datum":-20,"type":"quantitative","axis":null},"y2":{"datum":150}}},
      {"mark":{"type":"rule","color":"black","strokeWidth":3},"encoding":{"x":{"datum":0,"type":"quantitative","axis":null},"x2":{"datum":17},"y":{"datum":0,"type":"quantitative","axis":null}}},
      {"mark":{"type":"text","fontSize":40,"align":"left","baseline":"middle","text":"W GFP2"},"encoding":{"x":{"datum":0.449,"type":"quantitative","axis":null},"y":{"datum":126.6,"type":"quantitative","axis":null}}}
    ]}
  ]},
  {"layer":[
    {"data":{"values":[{}]},"mark":{"type":"rule","color":"#111111","strokeWidth":5.5},"encoding":{"x":{"datum":0.16,"type":"quantitative","scale":{"domain":[0,17],"range":[0,1211],"nice":false,"zero":false},"axis":null},"x2":{"datum":16.95},"y":{"datum":0,"type":"quantitative","scale":{"domain":[-1,1],"range":[1722,1688],"nice":false,"zero":false},"axis":null}}},
    {"data":{"name":"genes"},"transform":[{"filter":"datum.sec=='B' && datum.kind=='gray'"}],"mark":{"type":"rect","color":"#cbcbcb","stroke":"#1a1a1a","strokeWidth":2},"encoding":{"x":{"field":"start","type":"quantitative","axis":null},"x2":{"field":"end"},"y":{"datum":1,"type":"quantitative","axis":null},"y2":{"datum":-1}}},
    {"data":{"name":"genes"},"transform":[{"filter":"datum.sec=='B' && datum.kind=='red'"}],"mark":{"type":"rect","color":"#ee3a3a","stroke":"#1a1a1a","strokeWidth":2},"encoding":{"x":{"field":"start","type":"quantitative","axis":null},"x2":{"field":"end"},"y":{"datum":1,"type":"quantitative","axis":null},"y2":{"datum":-1}}},
    {"data":{"values":[{}]},"layer":[
      {"mark":{"type":"rect","color":"#6cc06a","stroke":"#1a1a1a","strokeWidth":1.5},"encoding":{"x":{"datum":12.44,"type":"quantitative","axis":null},"x2":{"datum":12.92},"y":{"datum":1,"type":"quantitative","axis":null},"y2":{"datum":-1}}},
      {"mark":{"type":"point","shape":"M-0.3,-1L0.3,0L-0.3,1Z","size":3364,"filled":true,"color":"#6cc06a","stroke":"#1a1a1a","strokeWidth":1.5,"opacity":1},"encoding":{"x":{"datum":13.038,"type":"quantitative","axis":null},"y":{"datum":0,"type":"quantitative","axis":null}}},
      {"mark":{"type":"rule","color":"#1a1a1a","strokeWidth":2},"encoding":{"x":{"datum":11.86,"type":"quantitative","axis":null},"x2":{"datum":14.5},"y":{"datum":-2.82,"type":"quantitative","axis":null}}},
      {"mark":{"type":"rule","color":"#1a1a1a","strokeWidth":2},"encoding":{"x":{"datum":11.86,"type":"quantitative","axis":null},"y":{"datum":-1.88,"type":"quantitative","axis":null},"y2":{"datum":-2.82}}},
      {"mark":{"type":"rule","color":"#1a1a1a","strokeWidth":2},"encoding":{"x":{"datum":14.5,"type":"quantitative","axis":null},"y":{"datum":-1.88,"type":"quantitative","axis":null},"y2":{"datum":-2.82}}},
      {"mark":{"type":"text","fontSize":38,"align":"center","baseline":"middle","text":"GFP2"},"encoding":{"x":{"datum":13.16,"type":"quantitative","axis":null},"y":{"datum":-4.35,"type":"quantitative","axis":null}}},
      {"mark":{"type":"text","fontSize":38,"align":"center","baseline":"middle","text":"DIVAC"},"encoding":{"x":{"datum":6.79,"type":"quantitative","axis":null},"y":{"datum":-2.88,"type":"quantitative","axis":null}}}
    ]},
    {"data":{"name":"boxlabels"},"transform":[{"filter":"datum.sec=='B'"}],"mark":{"type":"text","fontSize":38,"align":"center","baseline":"middle"},"encoding":{"x":{"field":"pos","type":"quantitative","axis":null},"y":{"datum":-0.05,"type":"quantitative","axis":null},"text":{"field":"label"}}}
  ]}
 ]}
]
}
